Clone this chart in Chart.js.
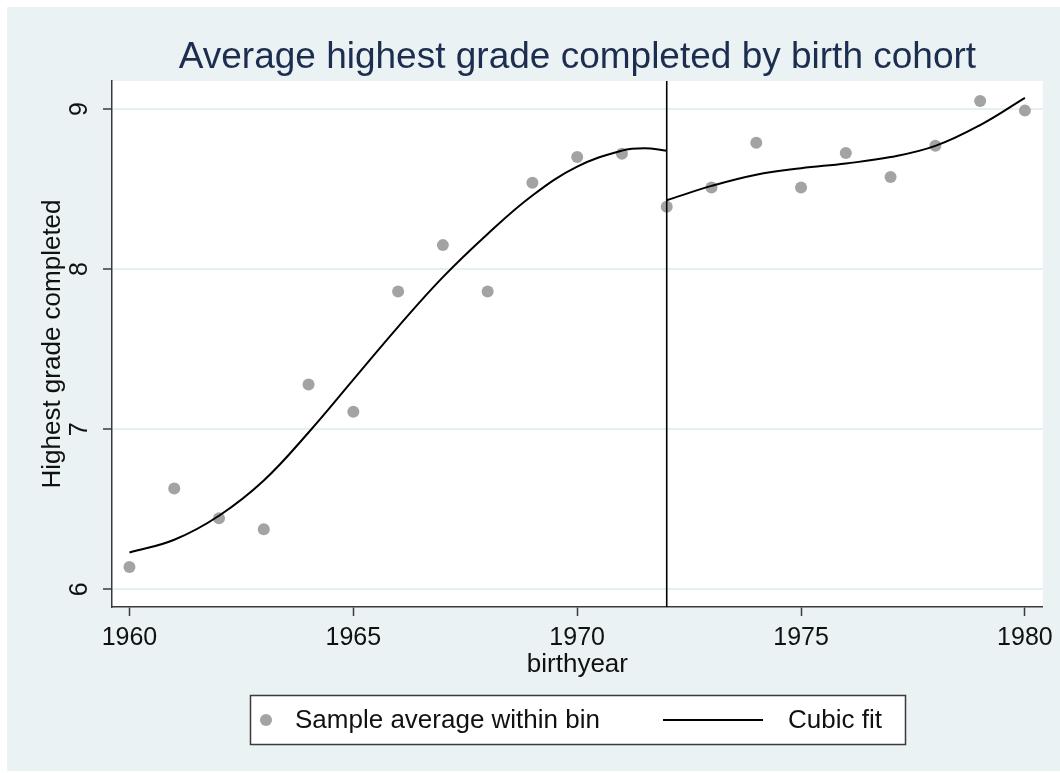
<!DOCTYPE html>
<html>
<head>
<meta charset="utf-8">
<script src="https://cdn.jsdelivr.net/npm/chart.js@4.4.1/dist/chart.umd.min.js"></script>
<style>
    html, body { margin: 0; padding: 0; background: #fff; }
    #wrap { width: 1060px; height: 773px; }
</style>
</head>
<body>
<div id="wrap"><canvas id="chart" width="1060" height="773"></canvas></div>
<script>
// Data
const years = [1960, 1961, 1962, 1963, 1964, 1965, 1966, 1967, 1968, 1969, 1970,
               1971, 1972, 1973, 1974, 1975, 1976, 1977, 1978, 1979, 1980];
const binAverages = [6.14, 6.63, 6.445, 6.375, 7.28, 7.11, 7.86, 8.15, 7.86, 8.54, 8.70,
                     8.72, 8.39, 8.51, 8.79, 8.51, 8.725, 8.575, 8.77, 9.05, 8.99];

const leftFitYears = [1960, 1961, 1962, 1963, 1964, 1965, 1966, 1967, 1968, 1969, 1970, 1971, 1971.5, 1972];
const leftFitValues = [6.23, 6.31, 6.46, 6.68, 6.98, 7.31, 7.64, 7.95, 8.22, 8.46, 8.64, 8.74, 8.755, 8.74];

const rightFitYears = [1972, 1973, 1974, 1975, 1976, 1977, 1978, 1979, 1980];
const rightFitValues = [8.43, 8.52, 8.59, 8.63, 8.66, 8.70, 8.77, 8.90, 9.07];

const xTicks = [1960, 1965, 1970, 1975, 1980];
const yTicks = [6, 7, 8, 9];
const cutoffYear = 1972;

const FONT = 'Arial, "Liberation Sans", sans-serif';
const BG = '#eaf2f3';
const AXIS = '#3a3a3a';
const TEXT = '#111';

function toPoints(xs, ys) {
    return xs.map((x, i) => ({ x: x, y: ys[i] }));
}

// Background, plot region, cutoff line, title and legend
const decorations = {
    id: 'decorations',
    beforeDraw(chart) {
        const { ctx, chartArea: ca } = chart;
        ctx.save();
        ctx.fillStyle = '#fff';
        ctx.fillRect(0, 0, chart.width, chart.height);
        ctx.fillStyle = BG;
        ctx.fillRect(7, 7, chart.width - 7, chart.height - 9);
        ctx.fillStyle = '#fff';
        ctx.fillRect(ca.left, ca.top, ca.right - ca.left, ca.bottom - ca.top);
        ctx.restore();
    },
    afterDatasetsDraw(chart) {
        const { ctx, chartArea: ca } = chart;
        const x = chart.scales.x.getPixelForValue(cutoffYear);
        ctx.save();
        ctx.strokeStyle = '#000';
        ctx.lineWidth = 1.6;
        ctx.beginPath();
        ctx.moveTo(x, ca.top);
        ctx.lineTo(x, ca.bottom);
        ctx.stroke();
        ctx.restore();
    },
    afterDraw(chart) {
        const { ctx, chartArea: ca } = chart;
        ctx.save();
        // title
        ctx.fillStyle = '#1c2d4f';
        ctx.font = '37px ' + FONT;
        ctx.textAlign = 'center';
        ctx.textBaseline = 'middle';
        ctx.fillText('Average highest grade completed by birth cohort', (ca.left + ca.right) / 2, 58);

        // legend
        ctx.fillStyle = '#fff';
        ctx.fillRect(250, 695, 656, 50);
        ctx.strokeStyle = AXIS;
        ctx.lineWidth = 1.5;
        ctx.strokeRect(250.5, 695.5, 655, 49);

        ctx.fillStyle = '#a3a3a3';
        ctx.beginPath();
        ctx.arc(266, 720, 6, 0, Math.PI * 2);
        ctx.fill();

        ctx.strokeStyle = '#000';
        ctx.lineWidth = 2;
        ctx.beginPath();
        ctx.moveTo(663, 720);
        ctx.lineTo(763, 720);
        ctx.stroke();

        ctx.fillStyle = TEXT;
        ctx.font = '26px ' + FONT;
        ctx.textAlign = 'left';
        ctx.fillText('Sample average within bin', 295, 721);
        ctx.fillText('Cubic fit', 788, 721);
        ctx.restore();
    }
};

const ctx = document.getElementById('chart').getContext('2d');
const chart = new Chart(ctx, {
    type: 'scatter',
    data: {
        datasets: [
            {
                label: 'Sample average within bin',
                data: toPoints(years, binAverages),
                pointRadius: 6,
                pointHoverRadius: 6,
                pointBackgroundColor: '#a3a3a3',
                pointBorderWidth: 0,
                order: 2
            },
            {
                type: 'line',
                label: 'Cubic fit',
                data: toPoints(leftFitYears, leftFitValues),
                borderColor: '#000',
                borderWidth: 2,
                pointRadius: 0,
                tension: 0.4,
                fill: false,
                order: 1
            },
            {
                type: 'line',
                label: 'Cubic fit (right)',
                data: toPoints(rightFitYears, rightFitValues),
                borderColor: '#000',
                borderWidth: 2,
                pointRadius: 0,
                tension: 0.4,
                fill: false,
                order: 1
            }
        ]
    },
    options: {
        responsive: false,
        animation: false,
        devicePixelRatio: 1,
        layout: { padding: { left: 0, right: 15, top: 81, bottom: 89 } },
        plugins: {
            legend: { display: false },
            tooltip: { enabled: false },
            title: { display: false }
        },
        scales: {
            x: {
                type: 'linear',
                position: 'bottom',
                min: 1959.61,
                max: 1980.40,
                afterBuildTicks: s => { s.ticks = xTicks.map(v => ({ value: v })); },
                afterFit: s => { s.height = 77; },
                ticks: {
                    font: { family: FONT, size: 25 },
                    color: TEXT,
                    padding: 7,
                    maxRotation: 0,
                    autoSkip: false,
                    callback: v => String(v)
                },
                grid: {
                    drawOnChartArea: false,
                    drawTicks: true,
                    tickLength: 9,
                    color: AXIS,
                    tickWidth: 1.5
                },
                border: { display: true, color: AXIS, width: 1.5 },
                title: {
                    display: true,
                    text: 'birthyear',
                    font: { family: FONT, size: 26 },
                    color: TEXT,
                    padding: { top: 0, bottom: 4 }
                }
            },
            y: {
                type: 'linear',
                min: 5.89,
                max: 9.175,
                afterBuildTicks: s => { s.ticks = yTicks.map(v => ({ value: v })); },
                afterFit: s => { s.width = 112; },
                ticks: {
                    font: { family: FONT, size: 25 },
                    color: TEXT,
                    minRotation: 90,
                    maxRotation: 90,
                    crossAlign: 'center',
                    padding: 16,
                    callback: v => String(v)
                },
                grid: {
                    color: '#e6eff1',
                    lineWidth: 2,
                    tickColor: AXIS,
                    tickLength: 9,
                    tickWidth: 1.5
                },
                border: { display: true, color: AXIS, width: 1.5 },
                title: {
                    display: true,
                    text: 'Highest grade completed',
                    font: { family: FONT, size: 26 },
                    color: TEXT,
                    padding: { top: 37, bottom: 0 }
                }
            }
        }
    },
    plugins: [decorations]
});
</script>
</body>
</html>
